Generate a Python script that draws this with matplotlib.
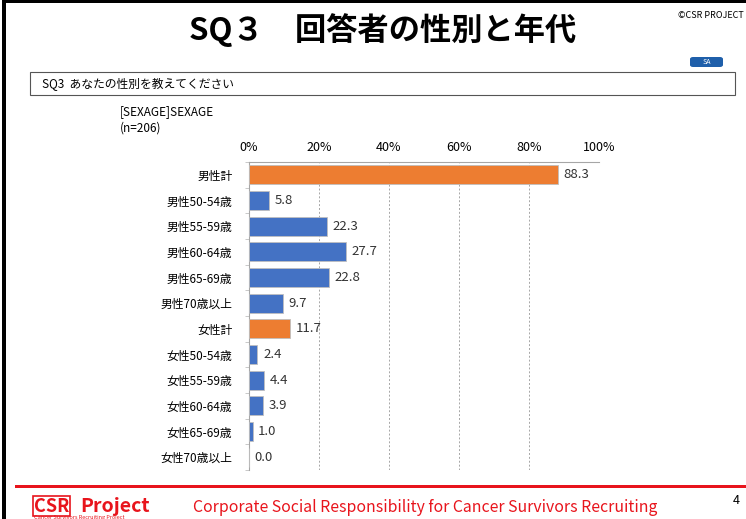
import matplotlib
matplotlib.use('Agg')
import matplotlib.pyplot as plt
from matplotlib.patches import FancyBboxPatch, Rectangle
import numpy as np

plt.rcParams['font.family'] = ['Noto Sans CJK JP', 'DejaVu Sans']

categories = ['男性計', '男性50-54歳', '男性55-59歳', '男性60-64歳', '男性65-69歳', '男性70歳以上',
              '女性計', '女性50-54歳', '女性55-59歳', '女性60-64歳', '女性65-69歳', '女性70歳以上']
values = [88.3, 5.8, 22.3, 27.7, 22.8, 9.7, 11.7, 2.4, 4.4, 3.9, 1.0, 0.0]
is_total = [True, False, False, False, False, False, True, False, False, False, False, False]
xticks = [0, 20, 40, 60, 80, 100]

W, H = 746, 519
fig = plt.figure(figsize=(W / 100, H / 100), dpi=100)

def fx(px):
    return px / W

def fy(py):
    return 1 - py / H

# frame decorations
fig.add_artist(Rectangle((fx(2), 0), fx(4), 1, transform=fig.transFigure, color='black', lw=0))
fig.add_artist(Rectangle((fx(2), fy(3)), 1, 3 / H, transform=fig.transFigure, color='black', lw=0))

fig.text(fx(383), fy(30), 'SQ３　回答者の性別と年代', ha='center', va='center',
         fontsize=22.5, fontweight='bold')
fig.text(fx(744), fy(15), '©CSR PROJECT', ha='right', va='center', fontsize=6.5)

badge = FancyBboxPatch((fx(690), fy(67)), fx(33), 10 / H, boxstyle='round,pad=0,rounding_size=0.004',
                       transform=fig.transFigure, fc='#1F5FAA', ec='none')
fig.add_artist(badge)
fig.text(fx(706.5), fy(62), 'SA', ha='center', va='center', fontsize=5, color='white')

fig.add_artist(Rectangle((fx(30), fy(95)), fx(705), 23 / H, transform=fig.transFigure,
                         fc='none', ec='#555555', lw=0.8))
fig.text(fx(42), fy(83.5), 'SQ3  あなたの性別を教えてください', ha='left', va='center', fontsize=8.5)

fig.text(fx(120), fy(112), '[SEXAGE]SEXAGE', ha='left', va='center', fontsize=8.5)
fig.text(fx(120), fy(128), '(n=206)', ha='left', va='center', fontsize=8.5)

# footer
fig.add_artist(Rectangle((fx(15), fy(488)), 1, 3 / H, transform=fig.transFigure, color='#E8141C', lw=0))
fig.text(fx(193), fy(508), 'Corporate Social Responsibility for Cancer Survivors Recruiting',
         ha='left', va='center', fontsize=11.4, color='#E8141C')
fig.text(fx(733), fy(500), '4', ha='left', va='center', fontsize=9)
fig.text(fx(34), fy(506), 'CSR', ha='left', va='center', fontsize=13, fontweight='bold', color='#E8141C',
         bbox=dict(boxstyle='square,pad=0.05', fc='white', ec='#E8141C', lw=1.2))
fig.text(fx(80), fy(506), 'Project', ha='left', va='center', fontsize=14, fontweight='bold', color='#E8141C')
fig.text(fx(34), fy(517), 'Cancer Survivors Recruiting Project', ha='left', va='center', fontsize=4, color='#E8141C')

# chart
ax = fig.add_axes([fx(249), fy(470), fx(350), (470 - 162) / H])
y = np.arange(len(categories))
colors = ['#ED7D31' if t else '#4472C4' for t in is_total]
ax.barh(y, values, height=0.73, color=colors, edgecolor='#BFBFBF', linewidth=0.6, zorder=3)
for yi, v in zip(y, values):
    ax.text(v + 1.6, yi, f'{v:.1f}', ha='left', va='center', fontsize=9.5, color='#333333', zorder=4)

ax.set_xlim(0, 100)
ax.set_ylim(len(categories) - 0.5, -0.5)
ax.set_xticks(xticks)
ax.set_xticklabels([f'{t}%' for t in xticks], fontsize=9)
ax.xaxis.tick_top()
ax.tick_params(axis='x', length=0, pad=6)
ax.set_yticks(y)
ax.set_yticklabels(categories, fontsize=8.5)
ax.tick_params(axis='y', length=0, pad=12)
ax.set_yticks(np.arange(len(categories) + 1) - 0.5, minor=True)
ax.tick_params(axis='y', which='minor', length=3, color='#BFBFBF', direction='out')
ax.grid(axis='x', linestyle=(0, (2, 2)), color='#A6A6A6', linewidth=0.7, zorder=0)
for s in ['bottom', 'right']:
    ax.spines[s].set_visible(False)
ax.spines['top'].set_color('#A6A6A6')
ax.spines['left'].set_color('#A6A6A6')
ax.spines['top'].set_linewidth(0.8)
ax.spines['left'].set_linewidth(0.8)

fig.savefig('out.png', dpi=100)
